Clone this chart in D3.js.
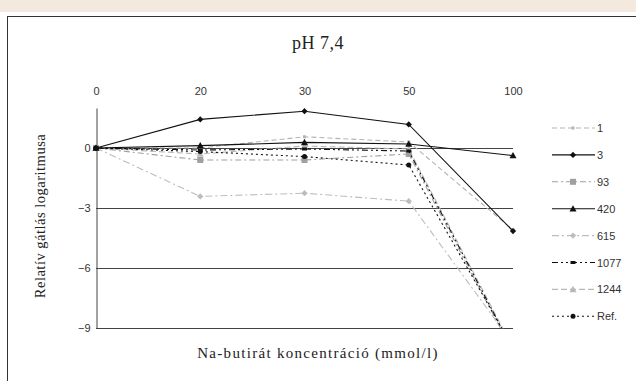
<!DOCTYPE html>
<html>
<head>
<meta charset="utf-8">
<script src="https://cdn.jsdelivr.net/npm/d3@7"></script>
<style>
  html, body { margin: 0; padding: 0; background: #fff; }
  svg { display: block; }
</style>
</head>
<body>
<div id="chart"></div>
<script>
// --- Données ---
const categories = ["0", "20", "30", "50", "100"];
const yTicks = [0, -3, -6, -9];
const seriesNames = ["1", "3", "93", "420", "615", "1077", "1244", "Ref."];
const s1 = [0, 0.0, 0.56, 0.3, -4.1];
const s3 = [0, 1.43, 1.84, 1.18, -4.15];
const s93 = [0, -0.6, -0.6, -0.3, -10.2];
const s420 = [0, 0.12, 0.28, 0.2, -0.38];
const s615 = [0, -2.42, -2.26, -2.66, -9.8];
const s1077 = [0, -0.1, -0.05, -0.15, -10.1];
const s1244 = [0, -0.3, 0.1, -0.05, -10.0];
const sRef = [0, -0.18, -0.43, -0.85, -10.0];
const allValues = [s1, s3, s93, s420, s615, s1077, s1244, sRef];

// --- Styles par série ---
const styles = [
  { color: "#b4b4b4", dash: "5,3", marker: "square", size: 3 },
  { color: "#111", dash: null, marker: "diamond", size: 5 },
  { color: "#a0a0a0", dash: "6,3,2,3", marker: "square", size: 6 },
  { color: "#111", dash: null, marker: "triangle", size: 6 },
  { color: "#bdbdbd", dash: "7,3,2,3", marker: "diamond", size: 5 },
  { color: "#111", dash: "6,3,2,3,2,3", marker: "dash", size: 5 },
  { color: "#b8b8b8", dash: "6,3", marker: "triangle", size: 6 },
  { color: "#111", dash: "2,3", marker: "circle", size: 5 }
];

const width = 636;
const height = 381;
const serif = "'Liberation Serif', 'Times New Roman', serif";
const sans = "'Liberation Sans', Arial, sans-serif";

const svg = d3.select("#chart").append("svg")
  .attr("width", width)
  .attr("height", height);

// --- Bandeau et cadre ---
svg.append("rect").attr("x", 0).attr("y", 0).attr("width", width).attr("height", 12)
  .attr("fill", "#f3e9df");
svg.append("rect").attr("x", 7.5).attr("y", 16.5).attr("width", 650).attr("height", 400)
  .attr("fill", "#fff").attr("stroke", "#333").attr("stroke-width", 1);

// --- Échelles ---
const x = d3.scalePoint().domain(categories).range([96, 513]);
const y = d3.scaleLinear().domain([-9, 2]).range([328, 108]);

// --- Titre ---
svg.append("text")
  .attr("x", 318).attr("y", 49)
  .attr("text-anchor", "middle")
  .style("font-family", serif)
  .style("font-size", "18px")
  .style("letter-spacing", "0.5px")
  .attr("fill", "#222")
  .text("pH 7,4");

// --- Grille ---
svg.append("g").selectAll("line").data(yTicks).join("line")
  .attr("x1", x(categories[0])).attr("x2", x(categories[categories.length - 1]))
  .attr("y1", (d) => Math.round(y(d)) + 0.5).attr("y2", (d) => Math.round(y(d)) + 0.5)
  .attr("stroke", "#444").attr("stroke-width", 1);

// --- Axe Y ---
const yAxis = svg.append("g")
  .attr("transform", `translate(${x(categories[0]) + 0.5},0)`)
  .call(d3.axisLeft(y).tickValues(yTicks).tickSize(0).tickPadding(6).tickFormat(d3.format("d")));
yAxis.select(".domain").attr("stroke", "#444");
yAxis.selectAll("text")
  .style("font-family", sans)
  .style("font-size", "11px")
  .attr("fill", "#333");

// --- Étiquettes X en haut ---
const xAxis = svg.append("g")
  .attr("transform", `translate(0,${y(2) - 13})`)
  .call(d3.axisTop(x).tickSize(0).tickPadding(0));
xAxis.select(".domain").remove();
xAxis.selectAll("text")
  .style("font-family", sans)
  .style("font-size", "11px")
  .attr("fill", "#333");

// --- Titres des axes ---
svg.append("text")
  .attr("transform", `translate(45,${216}) rotate(-90)`)
  .attr("text-anchor", "middle")
  .style("font-family", serif)
  .style("font-size", "14.5px")
  .style("letter-spacing", "0.5px")
  .attr("fill", "#222")
  .text("Relatív gátlás logaritmusa");

svg.append("text")
  .attr("x", 318).attr("y", 358)
  .attr("text-anchor", "middle")
  .style("font-family", serif)
  .style("font-size", "15px")
  .style("letter-spacing", "1.3px")
  .attr("fill", "#222")
  .text("Na-butirát koncentráció (mmol/l)");

// --- Zone de tracé (découpage) ---
svg.append("clipPath").attr("id", "plot-clip")
  .append("rect")
  .attr("x", 90).attr("y", y(2) - 4)
  .attr("width", 430).attr("height", y(-9) - y(2) + 4.5);

const plot = svg.append("g").attr("clip-path", "url(#plot-clip)");

// --- Marqueurs ---
function drawMarker(g, type, cx, cy, size, color) {
  if (type === "square") {
    g.append("rect").attr("x", cx - size / 2).attr("y", cy - size / 2)
      .attr("width", size).attr("height", size).attr("fill", color);
  } else if (type === "diamond") {
    g.append("path").attr("d", `M${cx},${cy - size / 1.6}L${cx + size / 1.6},${cy}L${cx},${cy + size / 1.6}L${cx - size / 1.6},${cy}Z`)
      .attr("fill", color);
  } else if (type === "triangle") {
    g.append("path").attr("d", `M${cx},${cy - size / 1.7}L${cx + size / 1.7},${cy + size / 2.2}L${cx - size / 1.7},${cy + size / 2.2}Z`)
      .attr("fill", color);
  } else if (type === "circle") {
    g.append("circle").attr("cx", cx).attr("cy", cy).attr("r", size / 2).attr("fill", color);
  } else if (type === "dash") {
    g.append("rect").attr("x", cx - size / 2).attr("y", cy - 1.5)
      .attr("width", size).attr("height", 3).attr("fill", color);
  }
}

const line = d3.line()
  .x((d, i) => x(categories[i]))
  .y((d) => y(d));

// Dessiner les grises d'abord, les noires dessus
const order = [6, 4, 2, 0, 7, 5, 3, 1];
order.forEach((k) => {
  const st = styles[k];
  const vals = allValues[k];
  plot.append("path")
    .datum(vals)
    .attr("d", line)
    .attr("fill", "none")
    .attr("stroke", st.color)
    .attr("stroke-width", 1.1)
    .attr("stroke-dasharray", st.dash);
  const mg = plot.append("g");
  vals.forEach((v, i) => drawMarker(mg, st.marker, x(categories[i]), y(v), st.size, st.color));
});

// --- Légende ---
const legend = svg.append("g");
seriesNames.forEach((name, k) => {
  const st = styles[k];
  const ly = 128 + k * 26.9;
  legend.append("line")
    .attr("x1", 552).attr("x2", 595).attr("y1", ly).attr("y2", ly)
    .attr("stroke", st.color).attr("stroke-width", 1.1)
    .attr("stroke-dasharray", st.dash);
  drawMarker(legend, st.marker, 573, ly, st.size, st.color);
  legend.append("text")
    .attr("x", 597).attr("y", ly + 4)
    .style("font-family", sans)
    .style("font-size", "11px")
    .attr("fill", "#333")
    .text(name);
});
</script>
</body>
</html>
